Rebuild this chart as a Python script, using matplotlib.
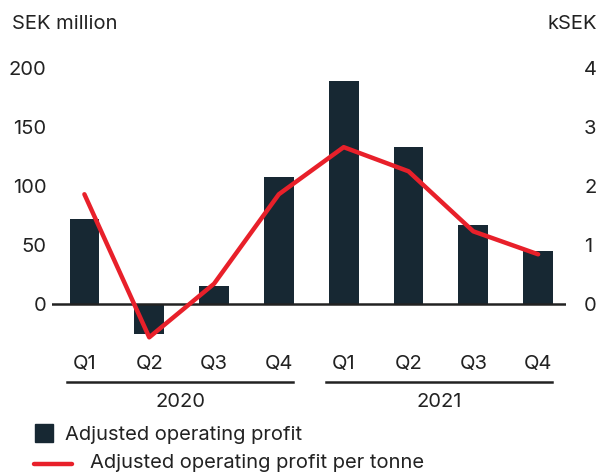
import numpy as np
import matplotlib
matplotlib.use("Agg")
import matplotlib.pyplot as plt
from matplotlib.patches import Rectangle
from matplotlib.lines import Line2D
import matplotlib.transforms as mtransforms

plt.rcParams['font.family'] = ['Inter', 'DejaVu Sans']

# data
quarters = ['Q1', 'Q2', 'Q3', 'Q4', 'Q1', 'Q2', 'Q3', 'Q4']
years = ['2020', '2021']
profit = [72, -26, 15, 108, 189, 133, 67, 45]              # SEK million
profit_per_tonne = [1.86, -0.57, 0.34, 1.86, 2.66, 2.25, 1.23, 0.84]  # kSEK

navy = '#172833'
red = '#e8202a'
txt = '#222222'
fs = 14.5

fig = plt.figure(figsize=(6, 4.74), dpi=100)
ax = fig.add_axes([52/600, 1-345/474, 514/600, 285/474])
ax2 = ax.twinx()

x = np.arange(len(profit))
ax.bar(x, profit, width=0.46, color=navy, zorder=2)
ax.axhline(0, color=txt, lw=1.8, zorder=3)
ax.set_xlim(-0.5, 7.43)
ax.set_ylim(-35, 207)
ax.set_yticks([0, 50, 100, 150, 200])
ax.set_xticks(x)
ax.set_xticklabels(quarters)

ax2.plot(x, profit_per_tonne, color=red, lw=3.2, solid_capstyle='round', zorder=4)
ax2.set_ylim(-35/50, 207/50)
ax2.set_yticks([0, 1, 2, 3, 4])

for a in (ax, ax2):
    for s in a.spines.values():
        s.set_visible(False)
    a.tick_params(length=0, labelsize=fs, colors=txt)
ax.tick_params(axis='y', pad=4)
ax2.tick_params(axis='y', pad=13)
ax.tick_params(axis='x', pad=7)
ax.set_zorder(ax2.get_zorder() - 1)
ax2.patch.set_visible(False)

fig.text(12/600, 1-24/474, 'SEK million', fontsize=fs, color=txt, va='center', ha='left')
fig.text(597/600, 1-24/474, 'kSEK', fontsize=fs, color=txt, va='center', ha='right')

# year brackets below the quarter labels
trans = mtransforms.blended_transform_factory(ax.transData, fig.transFigure)
for i, yr in enumerate(years):
    start, end = 4*i - 0.27, 4*i + 3 + 0.22
    fig.add_artist(Line2D([start, end], [1-382/474]*2, transform=trans, color=txt, lw=1.8))
    fig.text((start+end)/2, 1-402/474, yr, transform=trans, fontsize=fs, color=txt,
             ha='center', va='center')

# legend
fig.add_artist(Rectangle((35/600, 1-442/474), 18/600, 18/474, transform=fig.transFigure,
                         color=navy))
fig.text(65/600, 1-435/474, 'Adjusted operating profit', fontsize=fs, color=txt, va='center')
fig.add_artist(Line2D([34/600, 72/600], [1-464/474]*2, transform=fig.transFigure,
                      color=red, lw=3.2, solid_capstyle='round'))
fig.text(90/600, 1-463/474, 'Adjusted operating profit per tonne', fontsize=fs, color=txt,
         va='center')

fig.savefig('out.png', dpi=100)
